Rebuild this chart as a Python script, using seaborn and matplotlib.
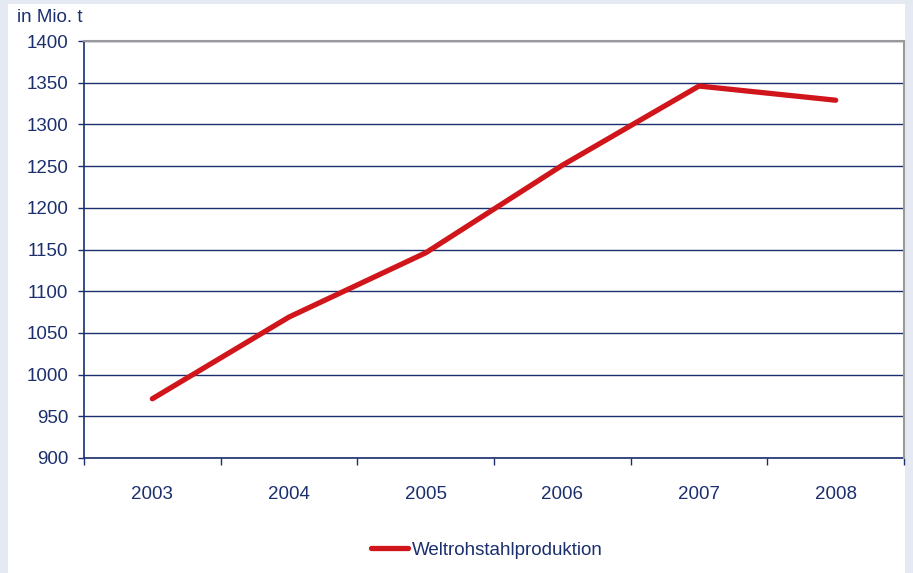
import matplotlib
matplotlib.use("Agg")
import matplotlib.pyplot as plt
import seaborn as sns
import pandas as pd
import numpy as np
from matplotlib.patches import Rectangle

years = [2003, 2004, 2005, 2006, 2007, 2008]
production = [971, 1069, 1146, 1251, 1346, 1329]
series_name = 'Weltrohstahlproduktion'

NAVY = '#1b2f6e'
RED = '#d0161b'
BG = '#e4e9f2'
FS = 13.5

sns.set_theme(style='white')
plt.rcParams['font.family'] = ['Liberation Sans', 'DejaVu Sans']

df = pd.DataFrame({'Jahr': years, 'Produktion': production})

fig = plt.figure(figsize=(9.13, 5.73), dpi=100, facecolor=BG)
W, H = 913, 573
# white panel behind everything
fig.patches.append(Rectangle((8 / W, 0), (905 - 8) / W, 1 - 4 / H,
                             transform=fig.transFigure, facecolor='white',
                             edgecolor='none', zorder=-5))

ax = fig.add_axes([84 / W, 1 - 458 / H, (904 - 84) / W, (458 - 41) / H])
ax.set_facecolor('white')

sns.lineplot(data=df, x='Jahr', y='Produktion', ax=ax, color=RED, lw=3.8,
             solid_capstyle='round', label=series_name, zorder=3)

ax.set_xlim(2002.5, 2008.5)
ax.set_ylim(900, 1400)
ax.set_yticks(np.arange(900, 1401, 50))
ax.set_xticks(years)
ax.set_xticks(np.arange(2002.5, 2008.6, 1), minor=True)
ax.grid(axis='y', color=NAVY, lw=1)
ax.grid(axis='x', visible=False)

for s in ['top', 'right']:
    ax.spines[s].set_color('#9a9a9a')
    ax.spines[s].set_linewidth(1.5)
    ax.spines[s].set_zorder(4)
for s in ['left', 'bottom']:
    ax.spines[s].set_color(NAVY)
    ax.spines[s].set_linewidth(1.2)

ax.tick_params(axis='y', which='major', direction='out', length=4.5, width=1,
               color=NAVY, labelcolor=NAVY, labelsize=FS, pad=7, left=True)
ax.tick_params(axis='x', which='major', length=0, labelcolor=NAVY,
               labelsize=FS, pad=20)
ax.tick_params(axis='x', which='minor', direction='out', length=5, width=1,
               color=NAVY, bottom=True)
ax.set_xlabel('')
ax.set_ylabel('')

fig.text(17 / W, 1 - 18 / H, 'in Mio. t', color=NAVY, fontsize=FS,
         ha='left', va='center')

ax.legend(loc='center', bbox_to_anchor=(487 / W, 1 - 550 / H), bbox_transform=fig.transFigure,
          frameon=False, fontsize=FS, handlelength=2.0, handletextpad=0.2,
          labelcolor=NAVY)

fig.savefig('out.png', dpi=100, facecolor=BG)
